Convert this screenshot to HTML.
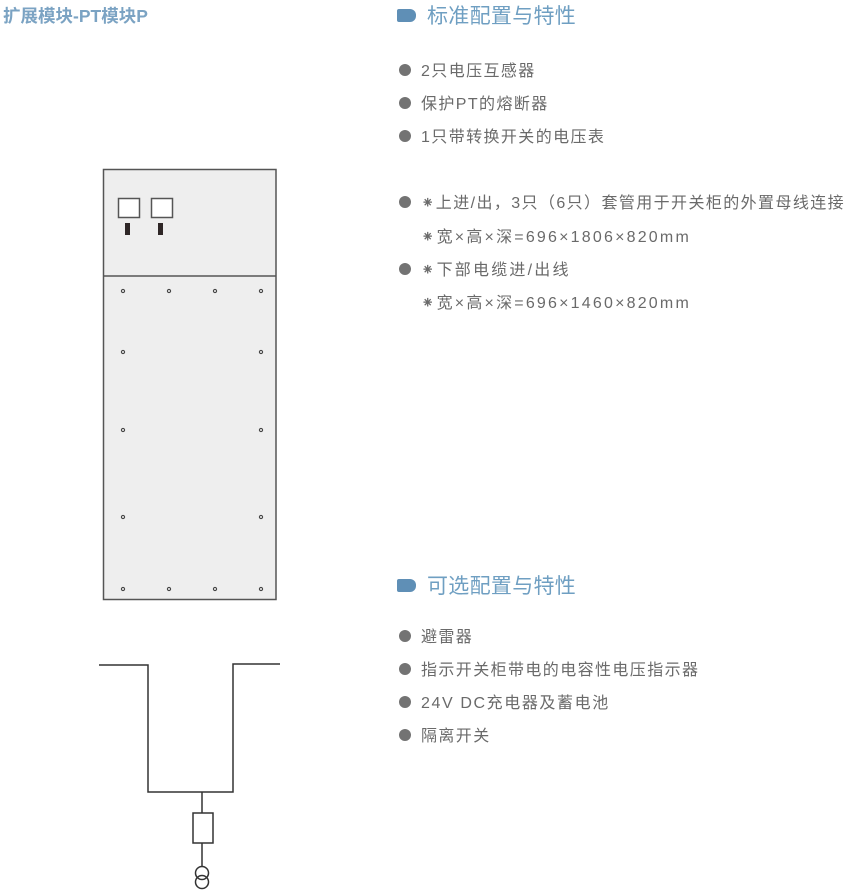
<!DOCTYPE html>
<html><head><meta charset="utf-8"><style>
body{margin:0;width:850px;height:896px;background:#fff;position:relative;overflow:hidden;font-family:"Liberation Sans","Noto Sans CJK SC",sans-serif}
.t{position:absolute;white-space:nowrap}
.title{left:3px;top:3px;font-size:17.5px;font-weight:bold;color:#7ba3c3}
.h{font-size:21px;color:#6f9fc2;left:427px;line-height:24px;letter-spacing:0.3px}
.m{position:absolute;left:397px;width:19px;height:13px;background:#5f8fb6;border-radius:2px 6px 6px 2px}
.b{position:absolute;left:399px;width:12px;height:12px;border-radius:50%;background:#737373}
.i{font-size:16px;color:#6a6a6a;left:421px;line-height:20px;letter-spacing:1.4px}
.d{letter-spacing:2.2px}
</style></head><body>
<div class="t title">扩展模块-PT模块P</div>
<div class="m" style="top:9px"></div><div class="t h" style="top:5px">标准配置与特性</div>
<div class="b" style="top:64px"></div><div class="t i" style="top:62px">2只电压互感器</div>
<div class="b" style="top:97px"></div><div class="t i" style="top:95px">保护PT的熔断器</div>
<div class="b" style="top:130px"></div><div class="t i" style="top:128px">1只带转换开关的电压表</div>
<div class="b" style="top:196px"></div><div class="t i" style="top:194px;letter-spacing:1.4px">⁕上进/出，3只（6只）套管用于开关柜的外置母线连接</div>
<div class="t i d" style="top:228px">⁕宽×高×深=696×1806×820mm</div>
<div class="b" style="top:263px"></div><div class="t i" style="top:261px;letter-spacing:2.2px">⁕下部电缆进/出线</div>
<div class="t i d" style="top:294px">⁕宽×高×深=696×1460×820mm</div>
<div class="m" style="top:579px"></div><div class="t h" style="top:575px">可选配置与特性</div>
<div class="b" style="top:630px"></div><div class="t i" style="top:628px">避雷器</div>
<div class="b" style="top:663px"></div><div class="t i" style="top:661px">指示开关柜带电的电容性电压指示器</div>
<div class="b" style="top:696px"></div><div class="t i" style="top:694px;letter-spacing:1.6px">24V DC充电器及蓄电池</div>
<div class="b" style="top:729px"></div><div class="t i" style="top:727px">隔离开关</div>
<svg width="850" height="896" style="position:absolute;left:0;top:0">
<g stroke="#555" stroke-width="1.5" fill="none">
<rect x="103.5" y="169.5" width="172.5" height="430" fill="#eeeeee"/>
<line x1="103.5" y1="276" x2="276" y2="276"/>
<rect x="118.5" y="198.5" width="21" height="19" fill="#fff"/>
<rect x="151.5" y="198.5" width="21" height="19" fill="#fff"/>
</g>
<rect x="125" y="223" width="5" height="12" fill="#2e2626"/>
<rect x="158" y="223" width="5" height="12" fill="#2e2626"/>
<g stroke="#444" stroke-width="1.1" fill="none">
<circle cx="123" cy="291" r="1.6"/><circle cx="169" cy="291" r="1.6"/><circle cx="215" cy="291" r="1.6"/><circle cx="261" cy="291" r="1.6"/>
<circle cx="123" cy="352" r="1.6"/><circle cx="261" cy="352" r="1.6"/>
<circle cx="123" cy="430" r="1.6"/><circle cx="261" cy="430" r="1.6"/>
<circle cx="123" cy="517" r="1.6"/><circle cx="261" cy="517" r="1.6"/>
<circle cx="123" cy="589" r="1.6"/><circle cx="169" cy="589" r="1.6"/><circle cx="215" cy="589" r="1.6"/><circle cx="261" cy="589" r="1.6"/>
</g>
<g stroke="#333" stroke-width="1.5" fill="none">
<polyline points="99,665 148,665 148,792 233,792 233,664 280,664"/>
<line x1="202" y1="792" x2="202" y2="813"/>
<rect x="193" y="813" width="20" height="30"/>
<line x1="202" y1="843" x2="202" y2="866"/>
<circle cx="202" cy="873" r="6.5"/>
<circle cx="202" cy="882" r="6.5"/>
</g>
</svg>
</body></html>
